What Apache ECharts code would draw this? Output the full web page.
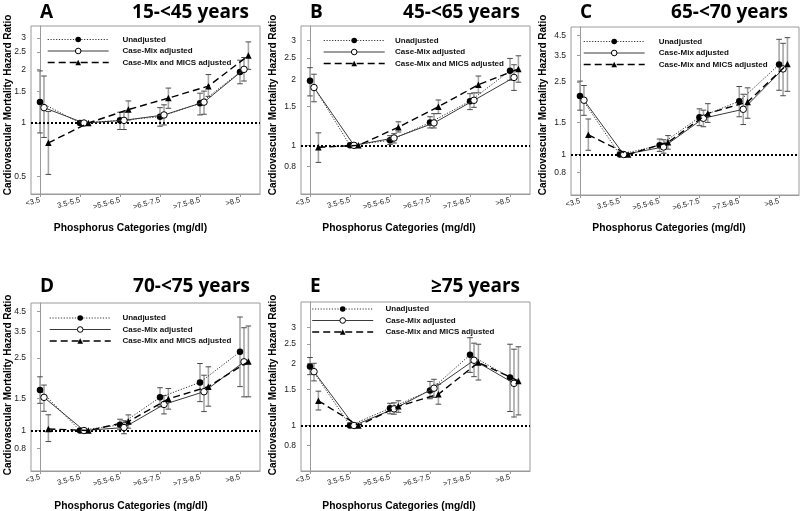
<!DOCTYPE html>
<html><head><meta charset="utf-8">
<script src="https://cdn.jsdelivr.net/npm/echarts@6/dist/echarts.min.js"></script>
<style>html,body{margin:0;padding:0;background:#fff}#c{width:800px;height:511px}</style>
</head><body><div id="c"></div>
<script>
// ---------------- DATA ----------------
const categories = ['<3.5', '3.5-5.5', '>5.5-6.5', '>6.5-7.5', '>7.5-8.5', '>8.5'];
const seriesNames = ['Unadjusted', 'Case-Mix adjusted', 'Case-Mix and MICS adjusted'];
const panelLetters = ['A', 'B', 'C', 'D', 'E'];
const panelTitles = ['15-<45 years', '45-<65 years', '65-<70 years', '70-<75 years', '\u226575 years'];
const yTicksA = [0.5, 1, 1.5, 2, 2.5, 3];
const yTicksB = [0.8, 1, 1.5, 2, 2.5, 3];
const yTicksC = [0.8, 1, 1.5, 2.5, 3.5, 4.5];
const yTicksD = [0.8, 1, 1.5, 2.5, 3.5, 4.5];
const yTicksE = [0.8, 1, 1.5, 2, 2.5, 3];
const yRangeA = [0.4, 3.5];
const yRangeB = [0.6, 3.5];
const yRangeC = [0.6, 5];
const yRangeD = [0.6, 5];
const yRangeE = [0.6, 4];

// Panel A: 15-<45 years
const A_unadj    = [1.31, 1, 1.035, 1.085, 1.29, 1.93];
const A_unadj_lo = [0.88, null, 0.92, 0.96, 1.11, 1.66];
const A_unadj_hi = [1.96, null, 1.15, 1.22, 1.47, 2.25];
const A_cm       = [1.22, 1, 1.035, 1.11, 1.31, 2.0];
const A_cm_lo    = [0.83, null, 0.92, 0.975, 1.12, 1.72];
const A_cm_hi    = [1.835, null, 1.15, 1.265, 1.51, 2.33];
const A_mics     = [0.774, 1, 1.19, 1.38, 1.61, 2.39];
const A_mics_lo  = [0.515, null, 1.04, 1.21, 1.41, 2.0];
const A_mics_hi  = [1.16, null, 1.33, 1.57, 1.87, 2.85];

// Panel B: 45-<65 years
const B_unadj    = [1.97, 1, 1.054, 1.27, 1.59, 2.19];
const B_unadj_lo = [1.68, null, 1.01, 1.20, 1.455, 1.98];
const B_unadj_hi = [2.26, null, 1.107, 1.35, 1.72, 2.49];
const B_cm       = [1.835, 1, 1.08, 1.265, 1.605, 2.04];
const B_cm_lo    = [1.58, null, 1.025, 1.2, 1.49, 1.78];
const B_cm_hi    = [2.11, null, 1.13, 1.395, 1.735, 2.33];
const B_mics     = [0.98, 1, 1.21, 1.50, 1.89, 2.23];
const B_mics_lo  = [0.836, null, 1.15, 1.395, 1.735, 1.94];
const B_mics_hi  = [1.14, null, 1.28, 1.61, 2.07, 2.56];

// Panel C: 65-<70 years
const C_unadj    = [2.095, 1, 1.123, 1.6, 1.96, 3.11];
const C_unadj_lo = [1.75, null, 1.04, 1.44, 1.61, 2.25];
const C_unadj_hi = [2.525, null, 1.216, 1.78, 2.36, 4.28];
const C_cm       = [1.985, 1, 1.10, 1.58, 1.77, 2.945];
const C_cm_lo    = [1.64, null, 1.017, 1.42, 1.46, 2.1];
const C_cm_hi    = [2.39, null, 1.205, 1.75, 2.14, 4.07];
const C_mics     = [1.283, 1, 1.166, 1.68, 1.94, 3.13];
const C_mics_lo  = [1.055, null, 1.07, 1.5, 1.58, 2.22];
const C_mics_hi  = [1.566, null, 1.27, 1.9, 2.32, 4.37];

// Panel D: 70-<75 years
const D_unadj    = [1.667, 1, 1.074, 1.52, 1.836, 2.70];
const D_unadj_lo = [1.41, null, 1.01, 1.35, 1.44, 1.74];
const D_unadj_hi = [1.97, null, 1.153, 1.716, 2.33, 4.19];
const D_cm       = [1.52, 1, 1.038, 1.39, 1.632, 2.38];
const D_cm_lo    = [1.275, null, 0.96, 1.233, 1.27, 1.53];
const D_cm_hi    = [1.775, null, 1.13, 1.553, 2.01, 3.66];
const D_mics     = [1.02, 1, 1.12, 1.49, 1.74, 2.39];
const D_mics_lo  = [0.87, null, 1.03, 1.31, 1.36, 1.53];
const D_mics_hi  = [1.22, null, 1.218, 1.70, 2.235, 3.74];

// Panel E: >=75 years
const E_unadj    = [1.94, 1, 1.214, 1.48, 2.21, 1.716];
const E_unadj_lo = [1.77, null, 1.14, 1.35, 1.815, 1.17];
const E_unadj_hi = [2.145, null, 1.283, 1.64, 2.68, 2.49];
const E_cm       = [1.83, 1, 1.205, 1.52, 2.08, 1.605];
const E_cm_lo    = [1.65, null, 1.135, 1.37, 1.73, 1.10];
const E_cm_hi    = [2.01, null, 1.29, 1.68, 2.52, 2.355];
const E_mics     = [1.32, 1, 1.24, 1.42, 2.03, 1.65];
const E_mics_lo  = [1.19, null, 1.16, 1.27, 1.666, 1.126];
const E_mics_hi  = [1.47, null, 1.32, 1.59, 2.49, 2.42];

const panelData = [
  {ticks: yTicksA, range: yRangeA, s: [[A_unadj, A_unadj_lo, A_unadj_hi], [A_cm, A_cm_lo, A_cm_hi], [A_mics, A_mics_lo, A_mics_hi]]},
  {ticks: yTicksB, range: yRangeB, s: [[B_unadj, B_unadj_lo, B_unadj_hi], [B_cm, B_cm_lo, B_cm_hi], [B_mics, B_mics_lo, B_mics_hi]]},
  {ticks: yTicksC, range: yRangeC, s: [[C_unadj, C_unadj_lo, C_unadj_hi], [C_cm, C_cm_lo, C_cm_hi], [C_mics, C_mics_lo, C_mics_hi]]},
  {ticks: yTicksD, range: yRangeD, s: [[D_unadj, D_unadj_lo, D_unadj_hi], [D_cm, D_cm_lo, D_cm_hi], [D_mics, D_mics_lo, D_mics_hi]]},
  {ticks: yTicksE, range: yRangeE, s: [[E_unadj, E_unadj_lo, E_unadj_hi], [E_cm, E_cm_lo, E_cm_hi], [E_mics, E_mics_lo, E_mics_hi]]}
];

// ---------------- LAYOUT / STYLE ----------------
const FONT = '"Liberation Sans", Arial, sans-serif';
const TITLE_FONT = '"Open Sans", "Liberation Sans", sans-serif';
const layout = [
  {grid: {left: 31, top: 26, width: 229, height: 168}, leg: [47, 35.5, 8.7], yt: [8, 105], xt: [130.5, 228], tl: [40, 12.5], tr: [249, 12.5]},
  {grid: {left: 301, top: 26, width: 229, height: 168}, leg: [323, 36.5, 5.3], yt: [273, 105], xt: [399, 228], tl: [310, 12.5], tr: [520, 12.5]},
  {grid: {left: 571, top: 27, width: 228, height: 168}, leg: [583, 37.5, 9], yt: [543, 105], xt: [669, 228], tl: [580, 12.5], tr: [788, 12.5]},
  {grid: {left: 31, top: 303, width: 229, height: 168}, leg: [49, 314, 6.7], yt: [8, 385], xt: [131, 506.5], tl: [40, 287], tr: [250, 287]},
  {grid: {left: 301, top: 302, width: 229, height: 169}, leg: [311.5, 305, 7.3], yt: [273, 385], xt: [399, 506.5], tl: [310, 287], tr: [520, 287]}
];
const xOffsets = [0, 0.1, 0.21];
const seriesStyle = [
  {symbol: 'circle', itemStyle: {color: '#000', borderWidth: 0}, lineStyle: {color: '#333', width: 1, type: [1.2, 1.6]}},
  {symbol: 'circle', itemStyle: {color: '#fff', borderColor: '#000', borderWidth: 1}, lineStyle: {color: '#3a3a3a', width: 1, type: 'solid'}},
  {symbol: 'triangle', itemStyle: {color: '#000', borderWidth: 0}, lineStyle: {color: '#000', width: 1.4, type: [7, 4]}}
];
const GRAY = '#9a9a9a';

function renderErr(params, api) {
  const x = api.value(0), lo = api.value(1), hi = api.value(2);
  const a = api.coord([x, lo]), b = api.coord([x, hi]);
  const w = 2.8;
  return {type: 'group', children: [
    {type: 'line', shape: {x1: a[0], y1: a[1], x2: b[0], y2: b[1]}, style: {stroke: '#a6a6a6', lineWidth: 1.6}},
    {type: 'line', shape: {x1: a[0] - w, y1: a[1], x2: a[0] + w, y2: a[1]}, style: {stroke: '#4a4a4a', lineWidth: 1}},
    {type: 'line', shape: {x1: b[0] - w, y1: b[1], x2: b[0] + w, y2: b[1]}, style: {stroke: '#4a4a4a', lineWidth: 1}}
  ]};
}

const grids = [], xAxes = [], yAxes = [], series = [], legends = [], graphics = [];
panelData.forEach((p, k) => {
  const L = layout[k];
  grids.push(Object.assign({show: true, borderColor: GRAY, borderWidth: 1, backgroundColor: 'transparent'}, L.grid));
  xAxes.push({
    type: 'value', gridIndex: k, min: -0.225, max: 5.5,
    splitLine: {show: false},
    axisLine: {show: true, lineStyle: {color: GRAY, width: 1}},
    axisTick: {show: true, length: 3, lineStyle: {color: GRAY}, customValues: [0, 1, 2, 3, 4, 5]},
    axisLabel: {customValues: [0, 1, 2, 3, 4, 5], formatter: v => categories[Math.round(v)], rotate: 15, fontSize: 7.5, fontFamily: FONT, color: '#222', margin: 6}
  });
  yAxes.push({
    type: 'log', gridIndex: k, min: p.range[0], max: p.range[1],
    splitLine: {show: false}, minorTick: {show: false},
    axisLine: {show: true, lineStyle: {color: GRAY, width: 1}},
    axisTick: {show: true, length: 3, lineStyle: {color: GRAY}, customValues: p.ticks},
    axisLabel: {customValues: p.ticks, formatter: v => String(v), fontSize: 8.5, fontFamily: FONT, color: '#222', margin: 5}
  });
  p.s.forEach((trip, si) => {
    const [hr, lo, hi] = trip;
    const off = xOffsets[si];
    const errData = [];
    hr.forEach((v, i) => { if (lo[i] != null) errData.push([i + off, lo[i], hi[i]]); });
    series.push({
      type: 'custom', xAxisIndex: k, yAxisIndex: k, renderItem: renderErr,
      data: errData, encode: {x: 0, y: [1, 2]}, z: 2, silent: true, clip: false
    });
  });
  p.s.forEach((trip, si) => {
    const hr = trip[0];
    const st = seriesStyle[si];
    const s = {
      type: 'line', name: seriesNames[si], xAxisIndex: k, yAxisIndex: k,
      data: hr.map((v, i) => [i + xOffsets[si], v]),
      symbol: st.symbol, symbolSize: 6.5, showSymbol: true,
      itemStyle: st.itemStyle, lineStyle: st.lineStyle, z: 4 + si, silent: true
    };
    if (si === 0) {
      s.markLine = {silent: true, symbol: 'none', label: {show: false},
        lineStyle: {color: '#000', width: 2, type: [2, 2]}, data: [{yAxis: 1}]};
    }
    series.push(s);
  });
  legends.push({
    data: seriesNames.map((n, si) => ({
      name: n,
      itemStyle: Object.assign({}, seriesStyle[si].itemStyle),
      lineStyle: Object.assign({}, seriesStyle[si].lineStyle)
    })),
    orient: 'vertical', left: L.leg[0], top: L.leg[1], padding: 0,
    itemWidth: 61, itemHeight: 7, itemGap: 3.5, selectedMode: false,
    textStyle: {fontSize: 8, fontWeight: 'bold', fontFamily: FONT, color: '#111', padding: [0, 0, 0, L.leg[2]]}
  });
  graphics.push(
    {type: 'text', x: L.yt[0], y: L.yt[1], rotation: Math.PI / 2,
      style: {text: 'Cardiovascular Mortality Hazard Ratio', font: 'bold 10px ' + FONT, fill: '#000', textAlign: 'center', textVerticalAlign: 'middle'}},
    {type: 'text', x: L.xt[0], y: L.xt[1],
      style: {text: 'Phosphorus Categories (mg/dl)', font: 'bold 10.3px ' + FONT, fill: '#000', textAlign: 'center', textVerticalAlign: 'middle'}},
    {type: 'text', x: L.tl[0], y: L.tl[1],
      style: {text: panelLetters[k], font: 'bold 19px ' + TITLE_FONT, fill: '#000', textAlign: 'left', textVerticalAlign: 'middle'}},
    {type: 'text', x: L.tr[0], y: L.tr[1],
      style: {text: panelTitles[k], font: 'bold 19px ' + TITLE_FONT, fill: '#000', textAlign: 'right', textVerticalAlign: 'middle'}}
  );
});

const chart = echarts.init(document.getElementById('c'), null, {renderer: 'canvas'});
chart.setOption({
  animation: false,
  backgroundColor: '#fff',
  grid: grids, xAxis: xAxes, yAxis: yAxes, series: series, legend: legends, graphic: graphics
});
</script>
</body></html>
